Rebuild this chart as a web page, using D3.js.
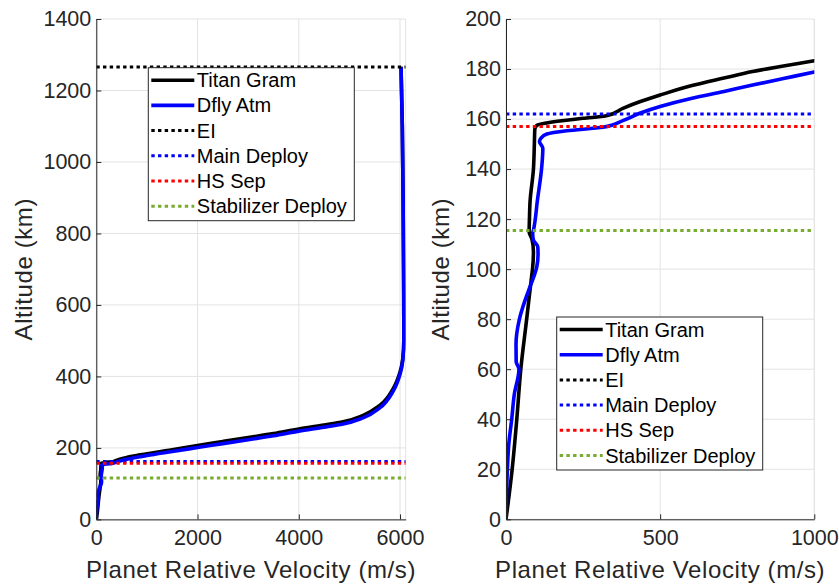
<!DOCTYPE html>
<html>
<head>
<meta charset="utf-8">
<script src="https://cdn.jsdelivr.net/npm/d3@7"></script>
<style>
  html, body { margin: 0; padding: 0; background: #fff; }
  svg { display: block; }
</style>
</head>
<body>
<svg id="chart" width="839" height="584"></svg>
<script>
// Titan Gram trajectory: altitude (km) vs planet relative velocity (m/s)
const titanGramAlt = [0, 20, 40, 60, 80, 97, 100, 107, 112, 115, 120, 127, 140, 150, 156, 157.5, 158.8, 160.3, 161.2,
  164.4, 167, 169.6, 173.3, 176.4, 179, 181.2, 183.3, 195, 207, 218, 229, 240, 253, 264, 273, 291, 319, 366, 412, 450, 502, 700, 875, 1100, 1266];
const titanGramVel = [0, 20, 35, 48, 67, 83, 86, 89, 84, 75, 76, 78, 89, 92, 93.5, 100, 150, 250, 322,
  381, 436, 500, 600, 707, 800, 900, 1000, 1500, 2000, 2500, 3000, 3500, 4000, 4500, 4876, 5271, 5600, 5865, 6000, 6055, 6075, 6070, 6062, 6045, 6020];

// Dfly Atm trajectory
const dflyAtmAlt = [0, 20, 30, 40, 50, 60, 63, 70, 80, 87.6, 93, 101, 106, 109, 111.6, 114.3, 115.6, 127.6, 141, 148.3, 151, 152.3,
  154, 155.3, 156.7, 159.5, 162.4, 165, 168.2, 171, 173.6, 176.2, 178.8, 190, 201, 212, 223, 234, 247, 258, 267, 284, 312, 359, 406, 446, 502, 700, 875, 1100, 1266];
const dflyAtmVel = [0, 4.5, 9, 18.5, 27, 42, 33, 32.5, 43.5, 62, 78, 100, 104, 103, 89, 86.5, 89, 102, 116, 119.5, 108.5, 113,
  132.6, 197, 314, 381, 436, 500, 600, 707, 800, 900, 1000, 1500, 2000, 2500, 3000, 3500, 4000, 4500, 4876, 5271, 5600, 5865, 6000, 6055, 6075, 6070, 6062, 6045, 6020];

// Event altitudes (km)
const eventNames = ["EI", "Main Deploy", "HS Sep", "Stabilizer Deploy"];
const eventAlts = [1266, 162, 157, 115.5];
const eventColors = ["#000000", "#0000ff", "#ff0000", "#77ac30"];

const seriesNames = ["Titan Gram", "Dfly Atm"];
const seriesColors = ["#000000", "#0000ff"];

// Axis ranges and ticks
const leftXDomain = [0, 6112];
const leftXTicks = [0, 2000, 4000, 6000];
const leftYDomain = [0, 1400];
const leftYTicks = [0, 200, 400, 600, 800, 1000, 1200, 1400];
const rightXDomain = [0, 1000];
const rightXTicks = [0, 500, 1000];
const rightYDomain = [0, 200];
const rightYTicks = [0, 20, 40, 60, 80, 100, 120, 140, 160, 180, 200];

const xLabel = "Planet Relative Velocity (m/s)";
const yLabel = "Altitude (km)";

const FONT = '"Liberation Sans", Arimo, Arial, sans-serif';
const svg = d3.select("#chart");
const axisColor = "#262626";
const gridColor = "#e3e3e3";

function zip(vel, alt) { return vel.map((v, i) => ({ v, a: alt[i] })); }
const series = [zip(titanGramVel, titanGramAlt), zip(dflyAtmVel, dflyAtmAlt)];

function panel(opt) {
  const x = d3.scaleLinear().domain(opt.xDomain).range([opt.left, opt.right]);
  const y = d3.scaleLinear().domain(opt.yDomain).range([opt.bottom, opt.top]);
  const g = svg.append("g");
  const clipId = "clip-" + opt.id;
  g.append("clipPath").attr("id", clipId).append("rect")
    .attr("x", opt.left).attr("y", opt.top)
    .attr("width", opt.right - opt.left).attr("height", opt.bottom - opt.top);

  // grid
  const grid = g.append("g");
  grid.selectAll("line.gx").data(opt.xTicks).join("line")
    .attr("x1", d => x(d)).attr("x2", d => x(d))
    .attr("y1", opt.top).attr("y2", opt.bottom)
    .attr("stroke", gridColor).attr("stroke-width", 1);
  grid.selectAll("line.gy").data(opt.yTicks).join("line")
    .attr("class", "gy")
    .attr("x1", opt.left).attr("x2", opt.right)
    .attr("y1", d => y(d)).attr("y2", d => y(d))
    .attr("stroke", gridColor).attr("stroke-width", 1);
  grid.append("line").attr("x1", opt.right).attr("x2", opt.right)
    .attr("y1", opt.top).attr("y2", opt.bottom)
    .attr("stroke", gridColor).attr("stroke-width", 1);

  const plot = g.append("g").attr("clip-path", `url(#${clipId})`);
  const line = d3.line().x(d => x(d.v)).y(d => y(d.a)).curve(d3.curveMonotoneY);
  series.forEach((s, i) => {
    plot.append("path").datum(s).attr("d", line)
      .attr("fill", "none").attr("stroke", seriesColors[i])
      .attr("stroke-width", 3.6).attr("stroke-linejoin", "round");
  });
  eventAlts.forEach((a, i) => {
    plot.append("line")
      .attr("x1", opt.left).attr("x2", opt.right)
      .attr("y1", y(a)).attr("y2", y(a))
      .attr("stroke", eventColors[i]).attr("stroke-width", 3)
      .attr("stroke-dasharray", "3.4,3.3");
  });

  // axes (ticks point inward)
  const xa = g.append("g").attr("transform", `translate(0,${opt.bottom})`)
    .call(d3.axisBottom(x).tickValues(opt.xTicks).tickFormat(d3.format("d"))
      .tickSize(-5).tickPadding(10).tickSizeOuter(0));
  const ya = g.append("g").attr("transform", `translate(${opt.left},0)`)
    .call(d3.axisLeft(y).tickValues(opt.yTicks).tickFormat(d3.format("d"))
      .tickSize(-5).tickPadding(5).tickSizeOuter(0));
  [xa, ya].forEach(a => {
    a.attr("font-family", null).attr("font-size", null);
    a.select(".domain").attr("stroke", axisColor).attr("stroke-width", 1);
    a.selectAll(".tick line").attr("stroke", axisColor);
    a.selectAll(".tick text").style("font-family", FONT)
      .style("font-size", "21.5px").attr("fill", axisColor);
  });

  g.append("text").attr("x", (opt.left + opt.right) / 2).attr("y", 578)
    .attr("text-anchor", "middle").style("font-family", FONT).style("font-size", "24px")
    .style("letter-spacing", "0.6px").attr("fill", axisColor).text(xLabel);
  g.append("text")
    .attr("transform", `translate(${opt.yLabelX},${(opt.top + opt.bottom) / 2}) rotate(-90)`)
    .attr("text-anchor", "middle").style("font-family", FONT).style("font-size", "24px")
    .style("letter-spacing", "0.6px").attr("fill", axisColor).text(yLabel);

  // legend
  const lg = g.append("g");
  lg.append("rect").attr("x", opt.legX).attr("y", opt.legY)
    .attr("width", 206).attr("height", 153)
    .attr("fill", "#fff").attr("stroke", axisColor).attr("stroke-width", 1);
  const entries = seriesNames.map((n, i) => ({ n, c: seriesColors[i], dot: false }))
    .concat(eventNames.map((n, i) => ({ n, c: eventColors[i], dot: true })));
  entries.forEach((e, i) => {
    const cy = opt.legY + 12.5 + i * 25.2;
    lg.append("line").attr("x1", opt.legX + 3).attr("x2", opt.legX + 46)
      .attr("y1", cy).attr("y2", cy)
      .attr("stroke", e.c).attr("stroke-width", e.dot ? 3 : 3.6)
      .attr("stroke-dasharray", e.dot ? "3.4,3.3" : null);
    lg.append("text").attr("x", opt.legX + 48.5).attr("y", cy).attr("dy", "0.35em")
      .style("font-family", FONT).style("font-size", "20px")
      .attr("fill", "#000").text(e.n);
  });
}

panel({ id: "l", left: 96.3, right: 405.7, top: 19, bottom: 519.4,
  xDomain: leftXDomain, yDomain: leftYDomain, xTicks: leftXTicks, yTicks: leftYTicks,
  yLabelX: 32, legX: 148.3, legY: 67.7 });
panel({ id: "r", left: 506, right: 814.3, top: 19, bottom: 519.3,
  xDomain: rightXDomain, yDomain: rightYDomain, xTicks: rightXTicks, yTicks: rightYTicks,
  yLabelX: 449, legX: 556.7, legY: 317 });
</script>
</body>
</html>
